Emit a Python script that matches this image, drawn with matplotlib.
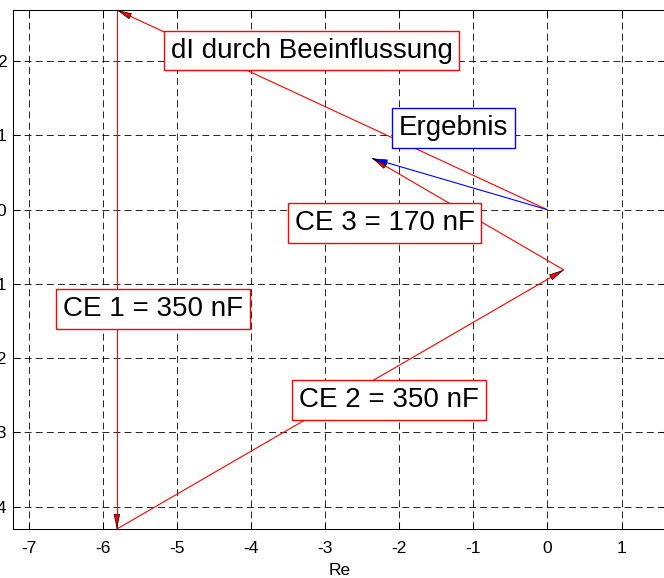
import matplotlib
matplotlib.use("Agg")
import matplotlib.pyplot as plt
import numpy as np

plt.rcParams['font.family'] = ['Liberation Sans', 'DejaVu Sans']
plt.rcParams['axes.unicode_minus'] = False
plt.rcParams['lines.scale_dashes'] = False

# Data: phasor vectors (start -> end) in the complex plane
labels = ["dI durch Beeinflussung", "CE 1 = 350 nF", "CE 2 = 350 nF", "CE 3 = 170 nF", "Ergebnis"]
start_re = [0.0, -5.81, -5.81, 0.22, 0.0]
start_im = [0.0, 2.69, -4.30, -0.81, 0.0]
end_re = [-5.81, -5.81, 0.22, -2.36, -2.36]
end_im = [2.69, -4.30, -0.81, 0.69, 0.69]
x_ticks = [-7, -6, -5, -4, -3, -2, -1, 0, 1]
y_ticks = [-4, -3, -2, -1, 0, 1, 2]

colors = ['red', 'red', 'red', 'red', 'blue']
# label box centres (data coords)
label_pos = [(-3.184, 2.144), (-5.323, -1.342), (-2.138, -2.560), (-2.198, -0.178), (-1.267, 1.101)]

fig = plt.figure(figsize=(6.64, 5.78), dpi=100)
ax = fig.add_axes([12.7/664, 49/578, 654.6/664, 519/578])
ax.set_xlim(-7.216, 1.618)
ax.set_ylim(-4.30, 2.69)
ax.set_xticks(x_ticks)
ax.set_yticks(y_ticks)
ax.set_xticklabels([str(v) for v in x_ticks])
ax.set_yticklabels([str(v) for v in y_ticks])
ax.tick_params(direction='in', length=4.7, width=0.75, top=True, right=True,
               labelsize=12.5, colors='black')
ax.tick_params(axis='x', pad=8.5)
ax.tick_params(axis='y', pad=4.5)
for s in ax.spines.values():
    s.set_linewidth(0.75)
    s.set_color('black')
ax.grid(True, color='black', linewidth=0.6, linestyle=(0, (5, 3)))
ax.set_axisbelow(True)
ax.set_xlabel("Re", fontsize=12.5, labelpad=5)

# lines
for i in range(len(labels)):
    ax.plot([start_re[i], end_re[i]], [start_im[i], end_im[i]], color=colors[i],
            linewidth=0.8, zorder=3, clip_on=False, solid_capstyle='butt')

# arrow heads (Ergebnis drawn last so it sits on top)
for i in range(len(labels)):
    dx = end_re[i] - start_re[i]
    dy = end_im[i] - start_im[i]
    ax.annotate("", xy=(end_re[i], end_im[i]),
                xytext=(end_re[i] - 0.002 * dx, end_im[i] - 0.002 * dy),
                arrowprops=dict(arrowstyle='-|>,head_length=0.94,head_width=0.2',
                                mutation_scale=10, fc=colors[i], ec='black', lw=0.5,
                                shrinkA=0, shrinkB=0),
                zorder=4 + i * 0.01, annotation_clip=False)

# labels with boxes
for i in range(len(labels)):
    ax.text(label_pos[i][0], label_pos[i][1], labels[i], fontsize=20, ha='center', va='center',
            color='black', zorder=6,
            bbox=dict(boxstyle='square,pad=0.25', fc='white', ec=colors[i], lw=1.0))

fig.savefig("out.png", dpi=100)
